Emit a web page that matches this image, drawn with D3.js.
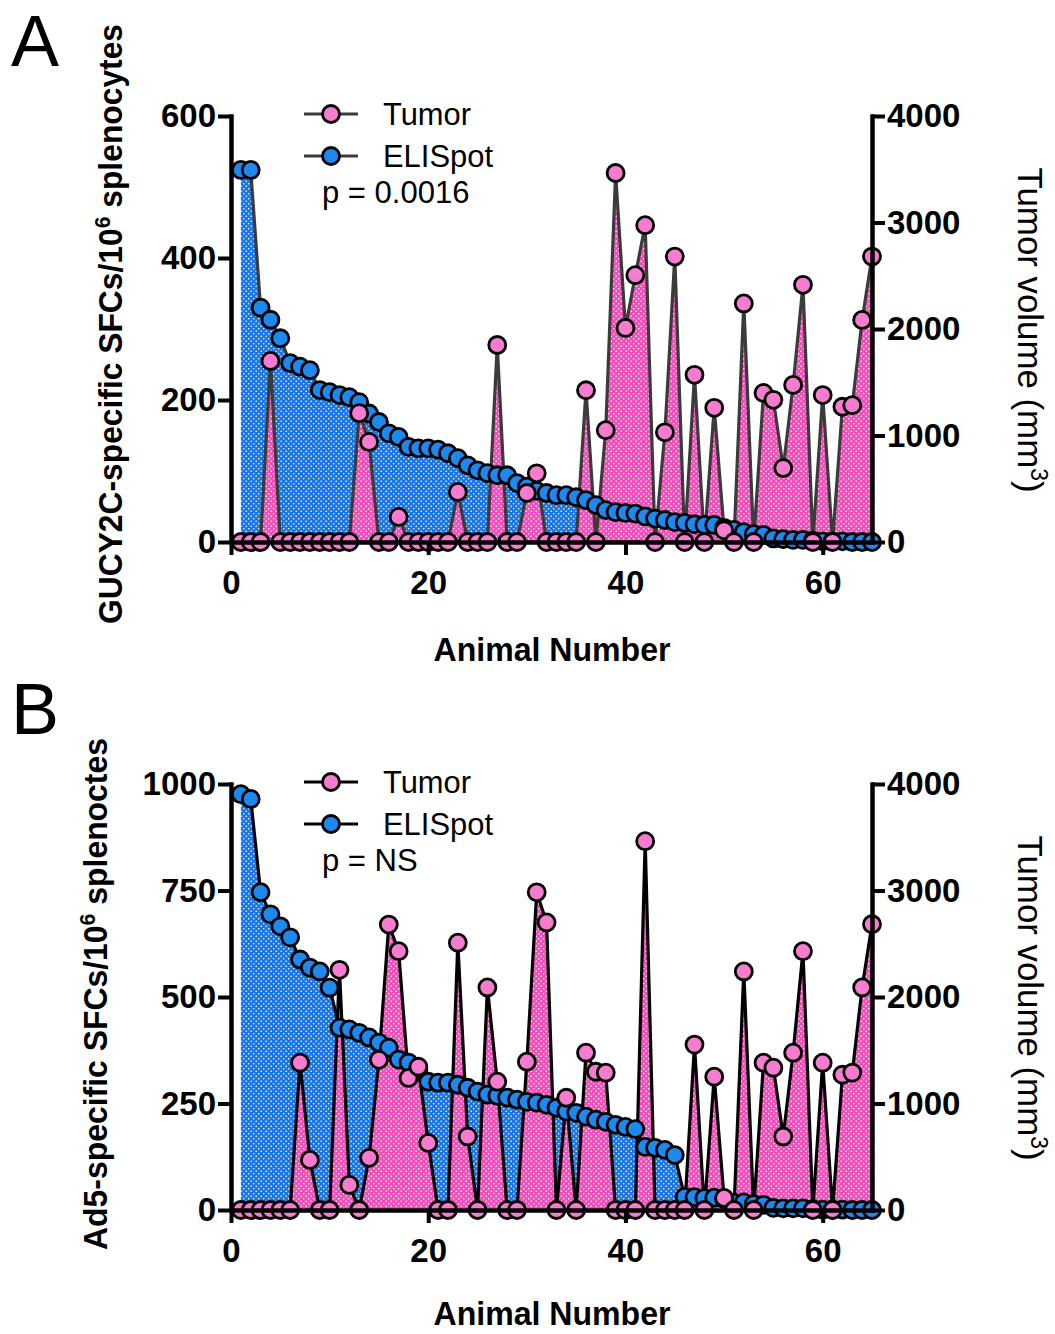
<!DOCTYPE html>
<html>
<head>
<meta charset="utf-8">
<script src="https://cdn.jsdelivr.net/npm/d3@7"></script>
<style>
  body { margin: 0; background: #fff; }
  svg { display: block; }
  .lab { font-family: "Liberation Sans", Arial, sans-serif; }
</style>
</head>
<body>
<div id="chart"></div>
<script>
const width = 1055, height = 1334;

const animals = d3.range(1, 66);

// panel A
const elispotA = [524, 524, 330, 313, 287, 252, 247, 242, 214, 211, 207, 204, 197, 181, 169, 153, 148, 134, 132, 132,
  130, 125, 118, 108, 101, 97, 94, 94, 83, 78, 72, 69, 66, 66, 63, 59, 52, 45, 42, 41,
  40, 36, 33, 31, 28, 27, 25, 24, 24, 20, 17, 14, 11, 10, 5, 4, 3, 3, 2, 1,
  1, 1, 0, 0, 0];
const tumorA = [0, 0, 0, 1700, 0, 0, 0, 0, 0, 0, 0, 0, 1210, 940, 0, 0, 235, 0, 0, 0,
  0, 0, 470, 0, 0, 0, 1850, 0, 0, 460, 645, 0, 0, 0, 0, 1425, 0, 1050, 3465, 2010,
  2505, 2975, 0, 1030, 2680, 0, 1570, 0, 1260, 110, 0, 2240, 0, 1400, 1335, 695, 1475, 2415, 0, 1380,
  0, 1270, 1285, 2085, 2680];

// panel B
const elispotB = [976, 965, 746, 694, 666, 640, 588, 569, 560, 522, 428, 424, 416, 405, 393, 381, 353, 346, 330, 301,
  299, 299, 294, 287, 278, 271, 268, 264, 259, 254, 252, 247, 240, 231, 228, 219, 212, 207, 200, 195,
  190, 148, 146, 141, 129, 31, 30, 28, 29, 26, 17, 18, 14, 12, 5, 4, 4, 4, 2, 1,
  1, 1, 0, 0, 0];
const tumorB = [0, 0, 0, 0, 0, 0, 1383, 470, 0, 0, 2255, 235, 0, 490, 1410, 2680, 2430, 1240, 1345, 630,
  0, 0, 2510, 690, 0, 2090, 1205, 0, 0, 1393, 2983, 2700, 0, 1054, 0, 1477, 1298, 1289, 0, 0,
  0, 3463, 0, 0, 0, 0, 1553, 0, 1252, 113, 0, 2240, 0, 1383, 1336, 690, 1477, 2430, 0, 1383,
  0, 1270, 1290, 2090, 2683];

const xTicks = [0, 20, 40, 60];
const leftTicksA = [0, 200, 400, 600];
const leftTicksB = [0, 250, 500, 750, 1000];
const rightTicks = [0, 1000, 2000, 3000, 4000];

const pinkFill = '#f04fb9', blueFill = '#1a76e3';
const pinkDot = '#f77ccf', blueDot = '#1d88ee';

const svg = d3.select('#chart').append('svg')
  .attr('width', width)
  .attr('height', height);

// dotted fills
const defs = svg.append('defs');
[['pinkPat', pinkFill], ['bluePat', blueFill]].forEach(([id, c]) => {
  const p = defs.append('pattern')
    .attr('id', id)
    .attr('patternUnits', 'userSpaceOnUse')
    .attr('width', 5).attr('height', 5);
  p.append('rect').attr('width', 5).attr('height', 5).attr('fill', c);
  p.append('circle').attr('cx', 1.2).attr('cy', 1.2).attr('r', 0.8).attr('fill', '#fff');
  p.append('circle').attr('cx', 3.7).attr('cy', 3.7).attr('r', 0.8).attr('fill', '#fff');
});

function drawPanel(cfg) {
  const g = svg.append('g');

  const x = d3.scaleLinear().domain([0, 65]).range([231, 872]);
  const yL = d3.scaleLinear().domain([0, cfg.leftMax]).range([cfg.y0, cfg.y0 - 426]);
  const yR = d3.scaleLinear().domain([0, 4000]).range([cfg.y0, cfg.y0 - 426]);

  const blue = animals.map((a, i) => [a, cfg.elispot[i]]);
  const pink = animals.map((a, i) => [a, cfg.tumor[i]]);

  const areaB = d3.area().x(d => x(d[0])).y0(yL(0)).y1(d => yL(d[1]));
  const areaP = d3.area().x(d => x(d[0])).y0(yR(0)).y1(d => yR(d[1]));
  const lineB = d3.line().x(d => x(d[0])).y(d => yL(d[1]));
  const lineP = d3.line().x(d => x(d[0])).y(d => yR(d[1]));

  g.append('path').attr('d', areaB(blue)).attr('fill', 'url(#bluePat)');
  g.append('path').attr('d', areaP(pink)).attr('fill', 'url(#pinkPat)');
  g.append('path').attr('d', lineB(blue)).attr('fill', 'none')
    .attr('stroke', cfg.lineColor).attr('stroke-width', 3.2).attr('stroke-linejoin', 'round');
  g.append('path').attr('d', lineP(pink)).attr('fill', 'none')
    .attr('stroke', cfg.lineColor).attr('stroke-width', 3.2).attr('stroke-linejoin', 'round');

  g.append('g').selectAll('circle').data(blue).join('circle')
    .attr('cx', d => x(d[0])).attr('cy', d => yL(d[1])).attr('r', 8.5)
    .attr('fill', blueDot).attr('stroke', '#000').attr('stroke-width', 2.8);
  g.append('g').selectAll('circle').data(pink).join('circle')
    .attr('cx', d => x(d[0])).attr('cy', d => yR(d[1])).attr('r', 8.5)
    .attr('fill', pinkDot).attr('stroke', '#000').attr('stroke-width', 2.8);

  // axes
  const styleAxis = (sel) => {
    sel.select('.domain').attr('stroke', '#000').attr('stroke-width', 4.5).attr('stroke-linecap', 'square');
    sel.selectAll('.tick line').attr('stroke', '#000').attr('stroke-width', 4);
    sel.selectAll('.tick text').attr('class', 'lab')
      .attr('fill', '#000').style('font-size', '33px').style('font-weight', 'bold');
  };

  g.append('g').attr('transform', `translate(${x(0)},0)`)
    .call(d3.axisLeft(yL).tickValues(cfg.leftTicks).tickFormat(d3.format('d'))
      .tickSize(13).tickSizeOuter(0).tickPadding(2))
    .call(styleAxis);
  g.append('g').attr('transform', `translate(${x(65)},0)`)
    .call(d3.axisRight(yR).tickValues(rightTicks).tickFormat(d3.format('d'))
      .tickSize(13).tickSizeOuter(0).tickPadding(2))
    .call(styleAxis);
  g.append('g').attr('transform', `translate(0,${cfg.y0})`)
    .call(d3.axisBottom(x).tickValues(xTicks).tickFormat(d3.format('d'))
      .tickSize(13).tickSizeOuter(0).tickPadding(16))
    .call(styleAxis);

  // panel letter
  g.append('text').attr('class', 'lab')
    .attr('x', 11).attr('y', cfg.y0 - 476)
    .style('font-size', '72px').text(cfg.letter);

  // left title
  const lt = g.append('text').attr('class', 'lab')
    .attr('transform', `translate(${cfg.titleX},${cfg.titleY}) rotate(-90)`)
    .attr('text-anchor', 'middle')
    .attr('textLength', cfg.titleLen).attr('lengthAdjust', 'spacingAndGlyphs')
    .style('font-size', '33px').style('font-weight', 'bold');
  lt.append('tspan').text(cfg.titleA);
  lt.append('tspan').attr('dy', -12).style('font-size', '22px').text('6');
  lt.append('tspan').attr('dy', 12).text(cfg.titleB);

  // right title
  const rt = g.append('text').attr('class', 'lab')
    .attr('transform', `translate(1018,${cfg.y0 - 212}) rotate(90)`)
    .attr('text-anchor', 'middle')
    .attr('textLength', 325).attr('lengthAdjust', 'spacingAndGlyphs')
    .style('font-size', '35px');
  rt.append('tspan').text('Tumor volume (mm');
  rt.append('tspan').attr('dy', -13).style('font-size', '23px').text('3');
  rt.append('tspan').attr('dy', 13).text(')');

  // x title
  g.append('text').attr('class', 'lab')
    .attr('x', 552).attr('y', cfg.xTitleY)
    .attr('text-anchor', 'middle')
    .attr('textLength', 237).attr('lengthAdjust', 'spacingAndGlyphs')
    .style('font-size', '34px').style('font-weight', 'bold')
    .text('Animal Number');

  // legend
  const leg = g.append('g').attr('transform', `translate(0,${cfg.y0 - 428})`);
  [['Tumor', pinkDot], ['ELISpot', blueDot]].forEach(([label, c], i) => {
    const yy = i * 42;
    leg.append('line').attr('x1', 304).attr('x2', 358).attr('y1', yy).attr('y2', yy)
      .attr('stroke', cfg.lineColor).attr('stroke-width', 3.2);
    leg.append('circle').attr('cx', 331).attr('cy', yy).attr('r', 8.5)
      .attr('fill', c).attr('stroke', '#000').attr('stroke-width', 2.8);
    leg.append('text').attr('class', 'lab')
      .attr('x', 383).attr('y', yy + 11)
      .attr('textLength', label === 'Tumor' ? 88 : 110).attr('lengthAdjust', 'spacingAndGlyphs')
      .style('font-size', '31px').text(label);
  });
  leg.append('text').attr('class', 'lab')
    .attr('x', 322).attr('y', 89)
    .style('font-size', '31px').text(cfg.pText);
}

drawPanel({
  letter: 'A', y0: 542, leftMax: 600, leftTicks: leftTicksA,
  elispot: elispotA, tumor: tumorA, lineColor: '#3b3b3b',
  titleX: 122, titleY: 324, titleLen: 600, xTitleY: 661,
  titleA: 'GUCY2C-specific SFCs/10', titleB: ' splenocytes', pText: 'p = 0.0016'
});
drawPanel({
  letter: 'B', y0: 1210, leftMax: 1000, leftTicks: leftTicksB,
  elispot: elispotB, tumor: tumorB, lineColor: '#000',
  titleX: 107, titleY: 994, titleLen: 512, xTitleY: 1325,
  titleA: 'Ad5-specific SFCs/10', titleB: ' splenoctes', pText: 'p = NS'
});
</script>
</body>
</html>
